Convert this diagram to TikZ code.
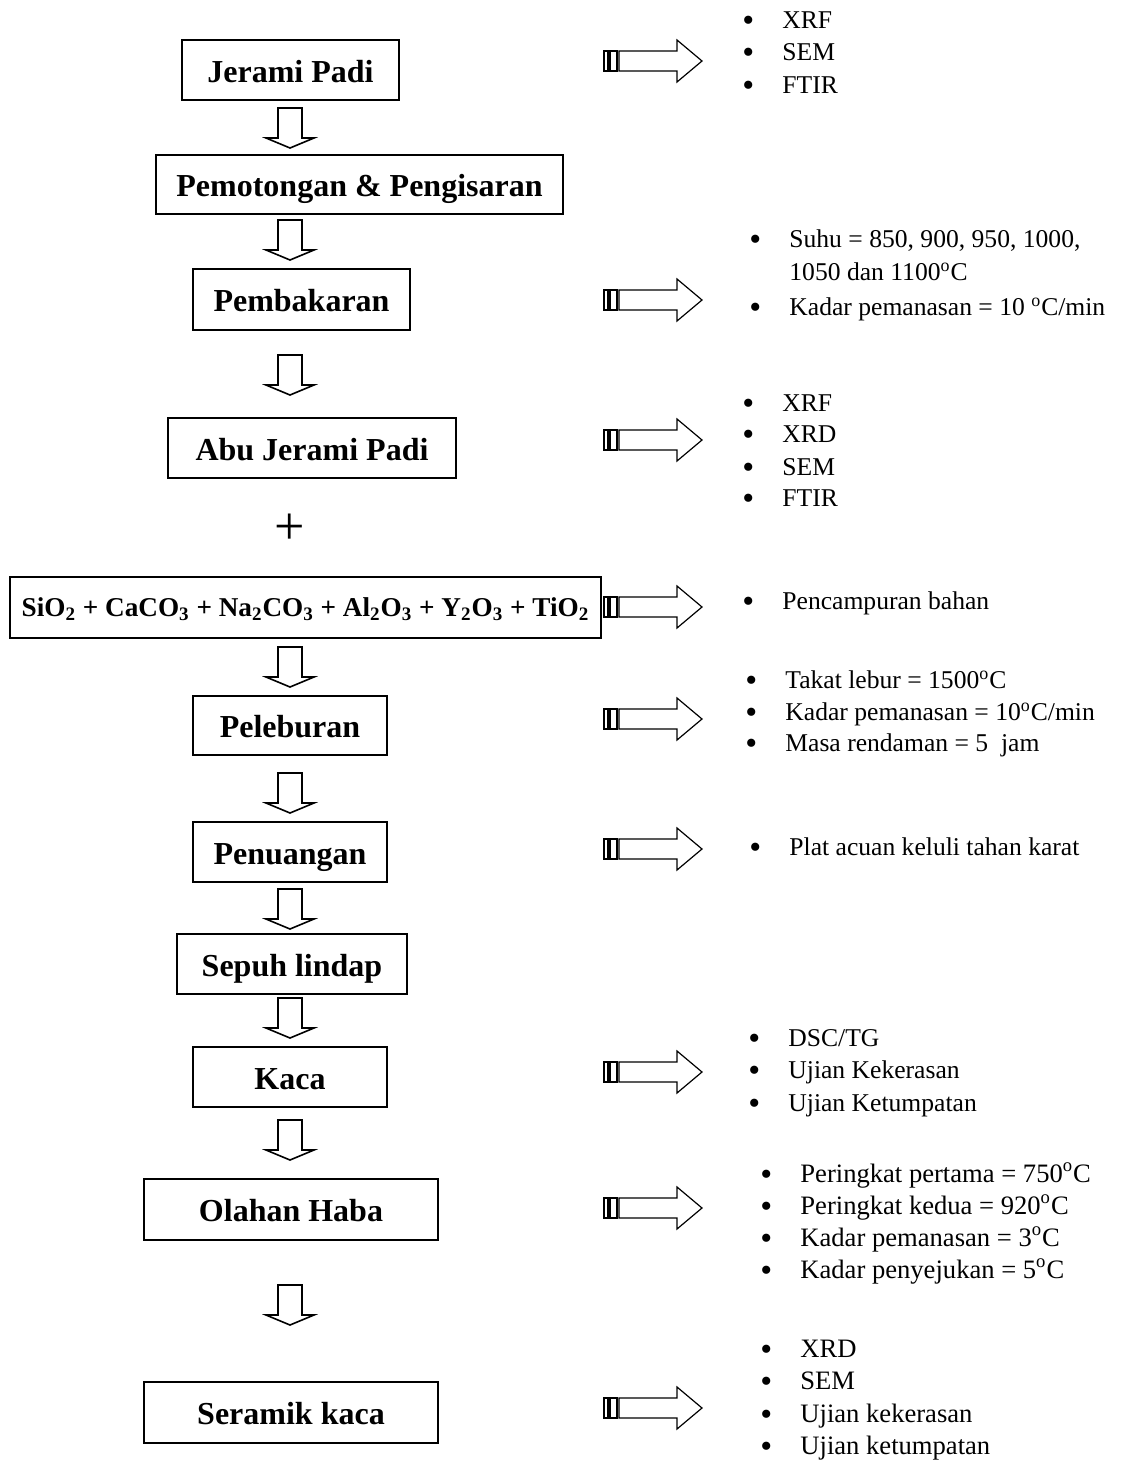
\documentclass[tikz,border=0pt]{standalone}
\usepackage{fontspec}
\setmainfont{Liberation Serif}
\usepackage{tikz}
\newcommand{\blt}{\makebox[20pt][l]{\raisebox{-1.5pt}{\fontsize{17}{15}\selectfont\textbullet}}}
\tikzset{
stage/.style={draw,black,line width=1pt,inner sep=0pt,text height=14pt,text depth=2pt,font=\fontsize{16}{19}\selectfont\bfseries},
entry/.style={anchor=base west,inner sep=0pt,font=\fontsize{12.8}{15}\selectfont},
bigentry/.style={entry,font=\fontsize{13.3}{15}\selectfont},
blockarr/.style={draw,black,line width=0.8pt,line join=miter},
sidearr/.style={draw,black,line width=0.6pt,line join=miter}
}
\begin{document}
\begin{tikzpicture}[x=0.5pt,y=-0.5pt]
	\useasboundingbox (0,0) rectangle (1125,1463);
\node[stage,minimum width=108.5pt,minimum height=30pt] (jerami) at (290.5,70) {Jerami Padi};
\node[stage,minimum width=203.5pt,minimum height=29.5pt] (potong) at (359.5,184.5) {Pemotongan \& Pengisaran};
\node[stage,minimum width=108.5pt,minimum height=30.5pt] (bakar) at (301.5,299.5) {Pembakaran};
\node[stage,minimum width=144pt,minimum height=30pt] (abu) at (312,448) {Abu Jerami Padi};
\node (plus) at (290,529) {\fontsize{27}{30}\selectfont +};
\node[stage,minimum width=295.5pt,minimum height=30.5pt,text height=12pt,text depth=3pt,font=\fontsize{13.6}{17}\selectfont\bfseries] (campur) at (305.5,607.5) {SiO\textsubscript{2} + CaCO\textsubscript{3} + Na\textsubscript{2}CO\textsubscript{3} + Al\textsubscript{2}O\textsubscript{3} + Y\textsubscript{2}O\textsubscript{3} + TiO\textsubscript{2}};
\node[stage,minimum width=97pt,minimum height=29.5pt] (lebur) at (290,725.5) {Peleburan};
\node[stage,minimum width=97pt,minimum height=30pt] (tuang) at (290,852) {Penuangan};
\node[stage,minimum width=115pt,minimum height=30pt] (sepuh) at (292,964) {Sepuh lindap};
\node[stage,minimum width=97pt,minimum height=30pt] (kaca) at (290,1077) {Kaca};
\node[stage,minimum width=147pt,minimum height=30.5pt] (olahan) at (291,1209.5) {Olahan Haba};
\node[stage,minimum width=147pt,minimum height=30.5pt] (seramik) at (291,1412.5) {Seramik kaca};

\foreach \y in {108,220,355,647,773,889,998,1120,1285}
  \draw[blockarr] (278,\y) -- (302,\y) -- (302,\y+30) -- (314,\y+30) -- (290,\y+40) -- (266,\y+30) -- (278,\y+30) -- cycle;

\foreach \y in {61,300,440,607,719,849,1072,1208,1408}{
  \draw[sidearr] (604,\y-10) rectangle (608,\y+10);
  \draw[sidearr] (610,\y-10) rectangle (617,\y+10);
  \draw[sidearr] (619,\y-10) -- (677,\y-10) -- (677,\y-21) -- (702,\y) -- (677,\y+21) -- (677,\y+10) -- (619,\y+10) -- cycle;
}

\node[entry] (j1) at (742,28) {\blt XRF};
\node[entry] (j2) at (742,60) {\blt SEM};
\node[entry] (j3) at (742,93) {\blt FTIR};

\node[entry] (b1) at (749,247) {\blt Suhu = 850, 900, 950, 1000,};
\node[entry] (b2) at (789,280) {1050 dan 1100\textsuperscript{o}C};
\node[entry] (b3) at (749,315) {\blt Kadar pemanasan = 10 \textsuperscript{o}C/min};

\node[entry] (a1) at (742,411) {\blt XRF};
\node[entry] (a2) at (742,442) {\blt XRD};
\node[entry] (a3) at (742,475) {\blt SEM};
\node[entry] (a4) at (742,506) {\blt FTIR};

\node[entry] (c1) at (742,609) {\blt Pencampuran bahan};

\node[entry] (l1) at (745,688) {\blt Takat lebur = 1500\textsuperscript{o}C};
\node[entry] (l2) at (745,720) {\blt Kadar pemanasan = 10\textsuperscript{o}C/min};
\node[entry] (l3) at (745,751) {\blt Masa rendaman = 5\ \ jam};

\node[entry] (t1) at (749,855) {\blt Plat acuan keluli tahan karat};

\node[entry] (k1) at (748,1046) {\blt DSC/TG};
\node[entry] (k2) at (748,1078) {\blt Ujian Kekerasan};
\node[entry] (k3) at (748,1111) {\blt Ujian Ketumpatan};

\node[bigentry] (o1) at (760,1182) {\blt Peringkat pertama = 750\textsuperscript{o}C};
\node[bigentry] (o2) at (760,1214) {\blt Peringkat kedua = 920\textsuperscript{o}C};
\node[bigentry] (o3) at (760,1246) {\blt Kadar pemanasan = 3\textsuperscript{o}C};
\node[bigentry] (o4) at (760,1278) {\blt Kadar penyejukan = 5\textsuperscript{o}C};

\node[bigentry] (s1) at (760,1357) {\blt XRD};
\node[bigentry] (s2) at (760,1389) {\blt SEM};
\node[bigentry] (s3) at (760,1422) {\blt Ujian kekerasan};
\node[bigentry] (s4) at (760,1454) {\blt Ujian ketumpatan};

\end{tikzpicture}
\end{document}
